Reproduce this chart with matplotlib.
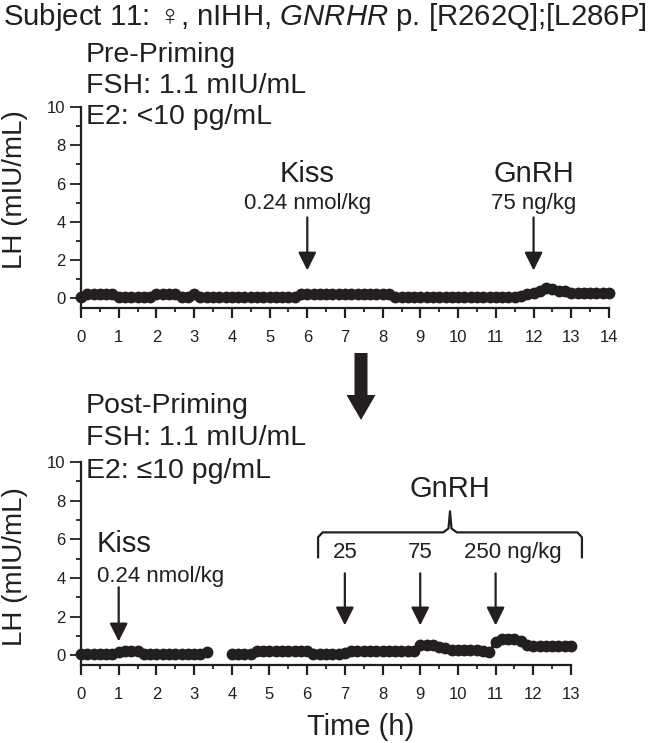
import numpy as np
import matplotlib
matplotlib.use("Agg")
import matplotlib.pyplot as plt
from matplotlib.patches import Polygon
from matplotlib.ticker import MultipleLocator

plt.rcParams['font.family'] = ['Liberation Sans', 'DejaVu Sans']
plt.rcParams['mathtext.fontset'] = 'custom'
plt.rcParams['mathtext.rm'] = 'Liberation Sans'
plt.rcParams['mathtext.it'] = 'Liberation Sans:italic'

INK = '#231f20'

# LH sampled every 10 min
pre_time = np.arange(85) / 6.0
pre_lh = [0.08, 0.22, 0.22, 0.22, 0.22, 0.22, 0.08, 0.08, 0.08, 0.08, 0.08, 0.08,
          0.22, 0.22, 0.22, 0.22, 0.08, 0.08, 0.22, 0.08, 0.08, 0.08, 0.08, 0.08,
          0.08, 0.08, 0.08, 0.08, 0.08, 0.08, 0.08, 0.08, 0.08, 0.08, 0.08, 0.22,
          0.22, 0.22, 0.22, 0.22, 0.22, 0.22, 0.22, 0.22, 0.22, 0.22, 0.22, 0.22,
          0.22, 0.22, 0.08, 0.08, 0.08, 0.08, 0.08, 0.08, 0.08, 0.08, 0.08, 0.08,
          0.08, 0.08, 0.08, 0.08, 0.08, 0.08, 0.08, 0.08, 0.08, 0.08, 0.15, 0.22,
          0.3, 0.4, 0.55, 0.5, 0.4, 0.38, 0.3, 0.3, 0.3, 0.3, 0.3, 0.3, 0.3]

post_time = np.arange(79) / 6.0
post_lh = [0.08, 0.08, 0.08, 0.08, 0.08, 0.08, 0.15, 0.22, 0.22, 0.22, 0.08, 0.08,
           0.08, 0.08, 0.08, 0.08, 0.08, 0.08, 0.08, 0.08, 0.18, np.nan, np.nan, np.nan,
           0.08, 0.08, 0.08, 0.08, 0.2, 0.2, 0.2, 0.2, 0.2, 0.2, 0.2, 0.2,
           0.2, 0.08, 0.08, 0.08, 0.08, 0.08, 0.12, 0.2, 0.2, 0.2, 0.2, 0.2,
           0.2, 0.2, 0.2, 0.2, 0.2, 0.2, 0.55, 0.55, 0.55, 0.45, 0.4, 0.28,
           0.28, 0.28, 0.28, 0.28, 0.25, 0.18, 0.7, 0.87, 0.87, 0.87, 0.75, 0.55,
           0.48, 0.48, 0.48, 0.48, 0.48, 0.48, 0.48]

pre_events = [(6, 'Kiss', '0.24 nmol/kg'), (12, 'GnRH', '75 ng/kg')]
post_gnrh_times = [7, 9, 11]
post_gnrh_doses = ['25', '75', '250 ng/kg']
post_gnrh_label_x = [7, 9, 11.46]

W, H = 652, 743
fig = plt.figure(figsize=(W / 100, H / 100), dpi=100)


def fx(px):
    return px / W


def fy(py):
    return 1 - py / H


def style_axes(ax, xmax):
    ax.set_xlim(0, xmax)
    ax.spines['top'].set_visible(False)
    ax.spines['right'].set_visible(False)
    for s in ('left', 'bottom'):
        ax.spines[s].set_linewidth(1.6)
        ax.spines[s].set_color(INK)
    ax.xaxis.set_major_locator(MultipleLocator(1))
    ax.xaxis.set_minor_locator(MultipleLocator(0.5))
    ax.yaxis.set_major_locator(MultipleLocator(2))
    ax.yaxis.set_minor_locator(MultipleLocator(1))
    ax.tick_params(axis='x', which='major', length=7, width=1.6, pad=9, labelsize=12, colors=INK)
    ax.tick_params(axis='x', which='minor', length=3, width=1.3, colors=INK)
    ax.tick_params(axis='y', which='major', length=8, width=1.3, pad=3, labelsize=12, colors=INK)
    ax.tick_params(axis='y', which='minor', length=3.5, width=1.3, colors=INK)
    ax.set_ylim(-0.5, 10)


def down_arrow(ax, x, y0, y1):
    ax.annotate('', xy=(x, y1), xytext=(x, y0), annotation_clip=False,
                arrowprops=dict(arrowstyle='-|>,head_length=1.1,head_width=0.55',
                                mutation_scale=10, lw=1.6, color=INK,
                                shrinkA=0, shrinkB=0))


# top panel
ax1 = fig.add_axes([fx(81), fy(308), fx(528), (308 - 107) / H])
style_axes(ax1, 14)
ax1.plot(pre_time, pre_lh, '-o', color=INK, ms=7.5, lw=2.2, clip_on=False, zorder=3)
for t, name, dose in pre_events:
    ax1.text(t, 6.06, name, ha='center', va='baseline', fontsize=21, color=INK)
    ax1.text(t, 4.65, dose, ha='center', va='baseline', fontsize=16, color=INK)
    down_arrow(ax1, t, 4.23, 1.46)

# bottom panel
ax2 = fig.add_axes([fx(81), fy(665), fx(490), (665 - 462) / H])
style_axes(ax2, 13)
ax2.plot(post_time, post_lh, '-o', color=INK, ms=7.5, lw=2.2, clip_on=False, zorder=3)
ax2.text(0.42, 5.33, 'Kiss', ha='left', va='baseline', fontsize=21, color=INK)
ax2.text(0.42, 3.78, '0.24 nmol/kg', ha='left', va='baseline', fontsize=16, color=INK)
down_arrow(ax2, 1, 3.52, 0.72)
for t, dose, lx in zip(post_gnrh_times, post_gnrh_doses, post_gnrh_label_x):
    ax2.text(lx, 5.02, dose, ha='center', va='baseline', fontsize=16, color=INK)
    down_arrow(ax2, t, 4.24, 1.55)

# brace over GnRH doses
bx0, bx1, bxc = 6.29, 13.29, 9.79
yb, yend, ypk = 6.36, 5.07, 7.45
brace_x = [bx0, bx0, bx0 + 0.12, bxc - 0.18, bxc - 0.04, bxc, bxc + 0.04, bxc + 0.18, bx1 - 0.12, bx1, bx1]
brace_y = [yend, yb - 0.25, yb, yb, yb + 0.2, ypk, yb + 0.2, yb, yb, yb - 0.25, yend]
ax2.plot(brace_x, brace_y, color=INK, lw=1.6, clip_on=False, solid_joinstyle='round')
ax2.text(bxc, 8.17, 'GnRH', ha='center', va='baseline', fontsize=21, color=INK)

# headers
fig.text(fx(325), fy(25), r'Subject 11: ♀, nIHH, $\mathit{GNRHR}$ p. [R262Q];[L286P]',
         ha='center', va='baseline', fontsize=21.2, color=INK)
for txt, py in zip(['Pre-Priming', 'FSH: 1.1 mIU/mL', 'E2: <10 pg/mL'], [62, 93, 124]):
    fig.text(fx(86), fy(py), txt, ha='left', va='baseline', fontsize=20.5, color=INK)
for txt, py in zip(['Post-Priming', 'FSH: 1.1 mIU/mL', 'E2: ≤10 pg/mL'], [413, 445, 478]):
    fig.text(fx(86), fy(py), txt, ha='left', va='baseline', fontsize=20.5, color=INK)

fig.text(fx(15), fy(190), 'LH (mIU/mL)', rotation=90, ha='center', va='center', fontsize=20, color=INK)
fig.text(fx(15), fy(567), 'LH (mIU/mL)', rotation=90, ha='center', va='center', fontsize=20, color=INK)
fig.text(fx(361), fy(735), 'Time (h)', ha='center', va='baseline', fontsize=21, color=INK)

# big arrow between panels
cx, sw, hw = 361, 6.5, 14.5
arrow_px = [(cx - sw, 353), (cx + sw, 353), (cx + sw, 395), (cx + hw, 395),
            (cx, 420), (cx - hw, 395), (cx - sw, 395)]
fig.add_artist(Polygon([(fx(x), fy(y)) for x, y in arrow_px], closed=True,
                       facecolor=INK, edgecolor='none', transform=fig.transFigure))

fig.savefig('out.png', dpi=100)
